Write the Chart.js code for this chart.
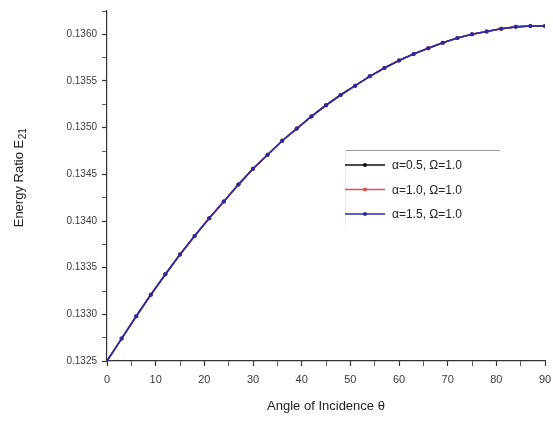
<!DOCTYPE html>
<html>
<head>
<meta charset="utf-8">
<script src="https://cdn.jsdelivr.net/npm/chart.js@4/dist/chart.umd.min.js"></script>
<style>
  html, body { margin: 0; padding: 0; background: #fff; }
  #wrap { width: 553px; height: 424px; position: relative; }
</style>
</head>
<body>
<div id="wrap"><canvas id="chart"></canvas></div>
<script>
"use strict";

// angle of incidence, degrees
const angles = [0, 3, 6, 9, 12, 15, 18, 21, 24, 27, 30, 33, 36, 39, 42, 45,
    48, 51, 54, 57, 60, 63, 66, 69, 72, 75, 78, 81, 84, 87, 90];

// energy ratio E21 (the three curves overlap)
const ratioA05 = [0.13250, 0.13274, 0.13298, 0.13321, 0.13343, 0.13364, 0.13384,
    0.13403, 0.13421, 0.13439, 0.13456, 0.13471, 0.13486, 0.13499, 0.13512,
    0.13524, 0.13535, 0.13545, 0.13555, 0.13564, 0.13572, 0.13579, 0.13585,
    0.13591, 0.13596, 0.13600, 0.13603, 0.13606, 0.13608, 0.13609, 0.13609];
const ratioA10 = [0.13250, 0.13274, 0.13298, 0.13321, 0.13343, 0.13364, 0.13384,
    0.13403, 0.13421, 0.13439, 0.13456, 0.13471, 0.13486, 0.13499, 0.13512,
    0.13524, 0.13535, 0.13545, 0.13555, 0.13564, 0.13572, 0.13579, 0.13585,
    0.13591, 0.13596, 0.13600, 0.13603, 0.13606, 0.13608, 0.13609, 0.13609];
const ratioA15 = [0.13250, 0.13274, 0.13298, 0.13321, 0.13343, 0.13364, 0.13384,
    0.13403, 0.13421, 0.13439, 0.13456, 0.13471, 0.13486, 0.13499, 0.13512,
    0.13524, 0.13535, 0.13545, 0.13555, 0.13564, 0.13572, 0.13579, 0.13585,
    0.13591, 0.13596, 0.13600, 0.13603, 0.13606, 0.13608, 0.13609, 0.13609];

const seriesLabels = ['\u03b1=0.5, \u03a9=1.0', '\u03b1=1.0, \u03a9=1.0', '\u03b1=1.5, \u03a9=1.0'];
const seriesColors = ['#111111', '#e05050', '#2a2aa8'];

const xTicks = [0, 10, 20, 30, 40, 50, 60, 70, 80, 90];
const yTicks = [0.1325, 0.1330, 0.1335, 0.1340, 0.1345, 0.1350, 0.1355, 0.1360];

const textColor = '#3a3a3a';
const axisColor = '#333333';
const fontFamily = 'Arial, "Liberation Sans", Helvetica, sans-serif';

function makeSet(label, values, color, order) {
    return {
        label: label,
        data: angles.map(function(a, i) { return { x: a, y: values[i] }; }),
        borderColor: color,
        backgroundColor: color,
        borderWidth: 1.6,
        pointRadius: 2,
        pointBorderWidth: 0,
        pointHoverRadius: 2,
        tension: 0,
        order: order
    };
}

// legend drawn inside the plot, the way the original has it
const innerLegend = {
    id: 'innerLegend',
    afterDraw: function(chart) {
        const ctx = chart.ctx;
        const x0 = 345, y0 = 150;
        ctx.save();
        ctx.strokeStyle = '#9a9a9a';
        ctx.lineWidth = 1;
        ctx.beginPath();
        ctx.moveTo(x0, y0 + 0.5);
        ctx.lineTo(500, y0 + 0.5);
        ctx.stroke();
        ctx.strokeStyle = '#eeeeee';
        ctx.beginPath();
        ctx.moveTo(x0 + 0.5, y0);
        ctx.lineTo(x0 + 0.5, y0 + 78);
        ctx.stroke();
        ctx.font = '12px ' + fontFamily;
        ctx.textBaseline = 'middle';
        chart.data.datasets.forEach(function(ds, i) {
            const y = y0 + 15 + i * 24.5;
            ctx.strokeStyle = ds.borderColor;
            ctx.lineWidth = 1.5;
            ctx.beginPath();
            ctx.moveTo(x0, y);
            ctx.lineTo(x0 + 40, y);
            ctx.stroke();
            ctx.fillStyle = ds.borderColor;
            ctx.beginPath();
            ctx.arc(x0 + 20, y, 2, 0, Math.PI * 2);
            ctx.fill();
            ctx.fillStyle = '#222';
            ctx.fillText(ds.label, x0 + 47, y + 1);
        });
        ctx.restore();
    }
};

// y title with a real subscript
const yTitle = {
    id: 'yTitle',
    afterDraw: function(chart) {
        const ctx = chart.ctx;
        const main = 'Energy Ratio E', sub = '21';
        ctx.save();
        ctx.translate(19, 178);
        ctx.rotate(-Math.PI / 2);
        ctx.font = '13px ' + fontFamily;
        const w1 = ctx.measureText(main).width;
        ctx.font = '10px ' + fontFamily;
        const w2 = ctx.measureText(sub).width;
        const start = -(w1 + w2) / 2;
        ctx.fillStyle = '#222';
        ctx.textBaseline = 'middle';
        ctx.font = '13px ' + fontFamily;
        ctx.fillText(main, start, 0);
        ctx.font = '10px ' + fontFamily;
        ctx.fillText(sub, start + w1 + 0.5, 4);
        ctx.restore();
    }
};

const ctxChart = document.getElementById('chart');
new Chart(ctxChart, {
    type: 'line',
    data: {
        datasets: [
            makeSet(seriesLabels[0], ratioA05, seriesColors[0], 2),
            makeSet(seriesLabels[1], ratioA10, seriesColors[1], 1),
            makeSet(seriesLabels[2], ratioA15, seriesColors[2], 0)
        ]
    },
    options: {
        responsive: true,
        maintainAspectRatio: false,
        animation: false,
        devicePixelRatio: 1,
        layout: {
            padding: { top: 8, right: 0, left: 0, bottom: 0 }
        },
        plugins: {
            legend: { display: false },
            tooltip: { enabled: false }
        },
        scales: {
            x: {
                type: 'linear',
                min: 0,
                max: 90,
                afterBuildTicks: function(scale) {
                    const t = [];
                    xTicks.forEach(function(v, i) {
                        t.push({ value: v });
                        if (i < xTicks.length - 1) t.push({ value: v + 5 });
                    });
                    scale.ticks = t;
                },
                afterFit: function(scale) {
                    scale.height = 63;
                    scale.paddingRight = 8;
                    scale.paddingLeft = 0;
                },
                border: { display: true, color: axisColor, width: 1.2 },
                grid: {
                    display: true,
                    drawOnChartArea: false,
                    drawTicks: true,
                    tickLength: 5,
                    tickColor: axisColor,
                    tickWidth: function(c) { return xTicks.indexOf(c.tick.value) >= 0 ? 1.2 : 0.8; }
                },
                ticks: {
                    color: textColor,
                    font: { size: 11, family: fontFamily },
                    padding: 7,
                    maxRotation: 0,
                    autoSkip: false,
                    callback: function(v) { return xTicks.indexOf(v) >= 0 ? String(v) : ''; }
                },
                title: {
                    display: true,
                    text: 'Angle of Incidence \u03b8',
                    color: '#222',
                    font: { size: 13, family: fontFamily },
                    padding: { top: 8, bottom: 10 }
                }
            },
            y: {
                type: 'linear',
                min: 0.1325,
                max: 0.13625,
                afterBuildTicks: function(scale) {
                    const t = [];
                    yTicks.forEach(function(v) {
                        t.push({ value: v });
                        t.push({ value: v + 0.00025 });
                    });
                    scale.ticks = t;
                },
                afterFit: function(scale) { scale.width = 107; },
                border: { display: true, color: axisColor, width: 1.2 },
                grid: {
                    display: true,
                    drawOnChartArea: false,
                    drawTicks: true,
                    tickLength: 5,
                    tickColor: axisColor,
                    tickWidth: function(c) {
                        return yTicks.some(function(v) { return Math.abs(v - c.tick.value) < 1e-9; }) ? 1.2 : 0.8;
                    }
                },
                ticks: {
                    color: textColor,
                    font: { size: 10, family: fontFamily },
                    padding: 5,
                    autoSkip: false,
                    callback: function(v) {
                        const hit = yTicks.some(function(t) { return Math.abs(t - v) < 1e-9; });
                        return hit ? v.toFixed(4) : '';
                    }
                },
                title: { display: false }
            }
        }
    },
    plugins: [innerLegend, yTitle]
});
</script>
</body>
</html>
